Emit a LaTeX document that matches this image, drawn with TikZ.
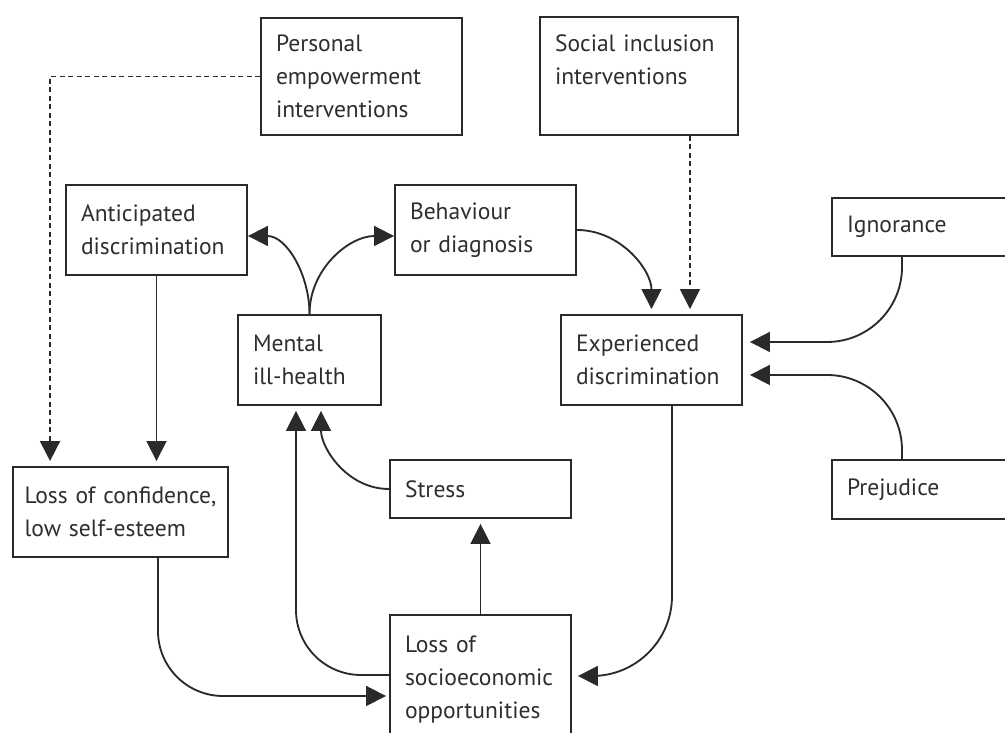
\documentclass[tikz,border=0pt]{standalone}
\usepackage{fontspec}
\setmainfont{PT Sans}
\usepackage{tikz}
\usetikzlibrary{arrows.meta}
\usepackage{xcolor}
\definecolor{diagline}{HTML}{2A2A2A}
\definecolor{diagtext}{HTML}{2E2E2E}
\newcommand\diagfont{\fontsize{13.4}{18.8}\selectfont}
\tikzset{
  cbox/.style ={rectangle, draw=diagline, line width=1.1pt, fill=white,
                align=left, inner xsep=0.3cm, inner ysep=2pt,
                font=\diagfont, text=diagtext},
  flow/.style ={-{Triangle[length=4mm, width=4mm]}, line width=1.05pt,
                draw=diagline, shorten >=0.1cm},
  dflow/.style={flow, dash pattern=on 0.1cm off 0.07cm},
}

\begin{document}
\begin{tikzpicture}[x=0.02cm, y=0.02cm]
    \useasboundingbox (0,0) rectangle (1005,733);
    \clip (0,0) rectangle (1005,733);
    % interventions
    \node[cbox, text width=3.42cm, minimum height=2.34cm] (pe) at (361.5,656.5) {Personal\\empowerment\\interventions};
    \node[cbox, text width=3.36cm, minimum height=2.36cm] (si) at (639,657) {Social inclusion\\interventions\\\mbox{}};
    % middle row
    \node[cbox, text width=3.02cm, minimum height=1.8cm] (ad) at (156.5,503) {Anticipated\\discrimination};
    \node[cbox, text width=3.02cm, minimum height=1.8cm] (bd) at (485.5,503) {Behaviour\\or diagnosis};
    \node[cbox, text width=3.02cm, minimum height=1.16cm] (ig) at (922.5,506) {Ignorance};
    \node[cbox, text width=2.26cm, minimum height=1.8cm] (mh) at (309.5,373) {Mental\\ill-health};
    \node[cbox, text width=3.02cm, minimum height=1.8cm] (ed) at (651.5,373) {Experienced\\discrimination};
    % lower row
    \node[cbox, text width=3.84cm, inner xsep=0.23cm, minimum height=1.8cm] (lc) at (120.5,221) {Loss of confidence,\\low self-esteem};
    \node[cbox, text width=3.02cm, minimum height=1.16cm] (st) at (480.5,244) {Stress};
    \node[cbox, text width=3.02cm, minimum height=1.18cm] (pj) at (922.5,243.5) {Prejudice};
    \node[cbox, text width=3.02cm, minimum height=2.6cm] (ls) at (480.5,53) {Loss of\\socioeconomic\\opportunities};

    \draw[dflow] (pe.west) -| ([xshift=0.76cm]lc.north west);
    \draw[dflow] ([xshift=1.02cm]si.south) -- ([xshift=1.02cm]si.south |- ed.north);
    \draw[flow] (ad.south) -- (ad.south |- lc.north);
    \draw[flow, shorten >=0pt] (mh.north) to[out=90, in=0] ([yshift=-0.12cm]ad.east);
    \draw[flow, shorten >=0pt] (mh.north) to[out=90, in=180] ([yshift=-0.12cm]bd.west);
    \draw[flow] (bd.east) to[out=0, in=90] (ed.north);
    \draw[flow, rounded corners=1.5cm, shorten >=0.14cm] ([xshift=-0.41cm]ig.south) |- ([yshift=0.36cm]ed.east);
    \draw[flow, rounded corners=1.5cm, shorten >=0.14cm] ([xshift=-0.41cm]pj.north) |- ([yshift=-0.30cm]ed.east);
    \draw[flow, rounded corners=1.6cm, shorten >=0.12cm] ([xshift=0.41cm]ed.south) |- ([yshift=0.08cm]ls.east);
    \draw[flow, rounded corners=1.3cm, shorten >=0.06cm] ([xshift=0.75cm]lc.south) |- ([yshift=-0.32cm]ls.west);
    \draw[flow, rounded corners=1.3cm] ([yshift=0.1cm]ls.west) -| ([xshift=-0.27cm]mh.south);
    \draw[flow] (st.west) to[out=180, in=-90] ([xshift=0.23cm]mh.south);
    \draw[flow] (ls.north) -- (st.south);
\end{tikzpicture}
\end{document}
